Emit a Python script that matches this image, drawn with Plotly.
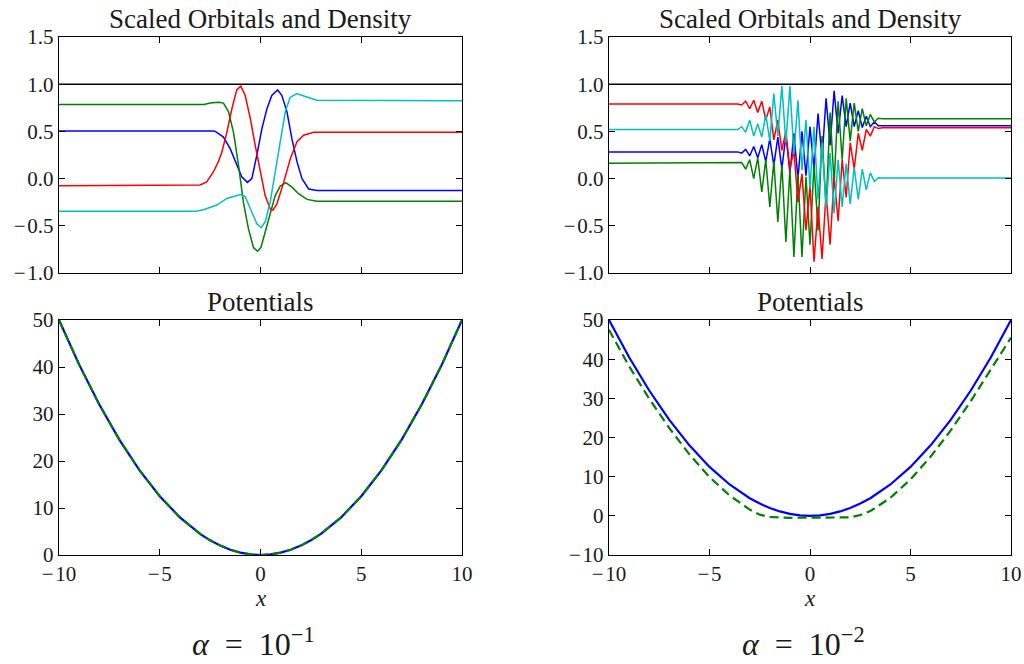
import numpy as np
import plotly.graph_objects as go

# ---------------- data ----------------
# alpha = 1e-1 : scaled orbitals (left top)
red_L_x = [-10, -3.5, -3.0, -2.67, -2.34, -2.09, -1.92, -1.67, -1.42, -1.18, -0.98, -0.76, -0.51, -0.26, 0.0, 0.23, 0.48, 0.61, 0.81, 1.15, 1.48, 1.81, 2.14, 2.64, 10]
red_L_y = [-0.075, -0.075, -0.068, -0.035, 0.07, 0.18, 0.28, 0.49, 0.74, 0.94, 0.98, 0.88, 0.64, 0.35, 0.06, -0.18, -0.32, -0.335, -0.27, -0.04, 0.21, 0.39, 0.46, 0.49, 0.49]
blue_L_x = [-10, -2.3, -2.17, -1.84, -1.51, -1.18, -0.93, -0.65, -0.43, -0.18, 0.07, 0.32, 0.56, 0.85, 1.06, 1.31, 1.56, 1.81, 2.06, 2.39, 2.8, 10]
blue_L_y = [0.505, 0.505, 0.49, 0.44, 0.32, 0.14, 0.02, -0.04, 0.0, 0.25, 0.53, 0.74, 0.88, 0.94, 0.88, 0.71, 0.42, 0.18, 0.0, -0.11, -0.125, -0.125]
green_L_x = [-10, -2.8, -2.5, -2.09, -1.84, -1.59, -1.34, -1.09, -0.85, -0.6, -0.35, -0.15, 0.02, 0.23, 0.48, 0.73, 0.98, 1.26, 1.56, 1.89, 2.31, 2.8, 10]
green_L_y = [0.785, 0.785, 0.80, 0.81, 0.80, 0.71, 0.49, 0.14, -0.25, -0.53, -0.73, -0.77, -0.73, -0.57, -0.35, -0.18, -0.08, -0.043, -0.09, -0.16, -0.22, -0.24, -0.24]
cyan_L_x = [-10, -3.2, -2.83, -2.17, -1.67, -1.01, -0.76, -0.51, -0.18, 0.03, 0.23, 0.48, 0.73, 0.98, 1.23, 1.47, 1.81, 2.22, 2.8, 10]
cyan_L_y = [-0.345, -0.345, -0.33, -0.28, -0.21, -0.17, -0.19, -0.32, -0.48, -0.52, -0.46, -0.25, 0.07, 0.42, 0.71, 0.86, 0.90, 0.87, 0.83, 0.825]

# alpha = 1e-2 : scaled orbitals (right top), sampled on a 0.2 grid in the centre
grid_R = [-10] + [round(-3.6 + 0.2 * i, 1) for i in range(37)] + [10]
red_R = [0.79, 0.79, 0.78, 0.82, 0.74, 0.83, 0.70, 0.82, 0.62, 0.76, 0.41, 0.62, 0.30, 0.50, 0.10, 0.30, -0.25,
         0.05, -0.55, -0.08, -0.88, -0.30, -0.85, -0.15, -0.70, 0.02, -0.45, 0.20, -0.20, 0.38, 0.10, 0.48,
         0.30, 0.52, 0.45, 0.55, 0.53, 0.538, 0.538]
blue_R = [0.283, 0.283, 0.27, 0.31, 0.24, 0.34, 0.22, 0.36, 0.18, 0.42, 0.14, 0.44, 0.10, 0.46, 0.06, 0.48, 0.00,
          0.50, 0.03, 0.55, 0.10, 0.69, 0.22, 0.85, 0.35, 0.93, 0.48, 0.88, 0.55, 0.80, 0.55, 0.72,
          0.54, 0.66, 0.55, 0.60, 0.56, 0.56, 0.56]
green_R = [0.163, 0.163, 0.17, 0.10, 0.20, 0.0, 0.22, -0.14, 0.20, -0.30, 0.18, -0.46, 0.15, -0.67, 0.10, -0.83, 0.05,
           -0.83, 0.02, -0.70, 0.15, -0.55, 0.45, -0.30, 0.70, -0.05, 0.82, 0.20, 0.85, 0.40, 0.80, 0.50,
           0.74, 0.56, 0.68, 0.60, 0.64, 0.634, 0.634]
cyan_R = [0.52, 0.52, 0.55, 0.49, 0.62, 0.45, 0.58, 0.44, 0.68, 0.40, 0.90, 0.45, 0.98, 0.38, 0.98, 0.26, 0.83,
          0.09, 0.62, -0.10, 0.55, -0.22, 0.38, -0.30, 0.27, -0.37, 0.20, -0.30, 0.16, -0.27, 0.12, -0.22,
          0.10, -0.12, 0.06, -0.03, 0.01, 0.007, 0.007]

density_x = [-10, 10]
density_y = [1.0, 1.0]

# potentials
pot_x = [-10, -9, -8, -7, -6, -5, -4, -3, -2.5, -2, -1.5, -1, -0.5, 0, 0.5, 1, 1.5, 2, 2.5, 3, 4, 5, 6, 7, 8, 9, 10]
pot_blue = [50, 40.5, 32, 24.5, 18, 12.5, 8, 4.5, 3.125, 2, 1.125, 0.5, 0.125, 0, 0.125, 0.5, 1.125, 2, 3.125, 4.5, 8, 12.5, 18, 24.5, 32, 40.5, 50]
pot_green_L = [50, 40.5, 32, 24.5, 18, 12.5, 8, 4.5, 3.125, 2, 1.125, 0.5, 0.125, 0, 0.125, 0.5, 1.125, 2, 3.125, 4.5, 8, 12.5, 18, 24.5, 32, 40.5, 50]
potR_green_x = [-10, -9, -8, -7, -6, -5, -4, -3, -2.5, -2, -1, 0, 1, 2, 2.5, 3, 4, 5, 6, 7, 8, 9, 10]
potR_green_y = [47.5, 38.2, 29.9, 22.4, 15.7, 9.9, 5.2, 1.6, 0.3, -0.3, -0.5, -0.5, -0.5, -0.4, 0.2, 1.2, 4.6, 9.3, 15.1, 21.8, 29.3, 37.3, 45.5]

M = "\u2212\u200a"  # minus sign followed by a hair space (mathtext look)
orbital_ticks = [-1.0, -0.5, 0.0, 0.5, 1.0, 1.5]
orbital_ticktext = [M + "1.0", M + "0.5", "0.0", "0.5", "1.0", "1.5"]
x_ticks = [-10, -5, 0, 5, 10]
x_ticktext = [M + "10", M + "5", "0", "5", "10"]
potL_ticks = [0, 10, 20, 30, 40, 50]
potR_ticks = [-10, 0, 10, 20, 30, 40, 50]
potR_ticktext = [M + "10", "0", "10", "20", "30", "40", "50"]

# ---------------- figure ----------------
W, H = 1024, 664
BLUE, GREEN, RED, CYAN = "#0000ff", "#008000", "#ff0000", "#00bfbf"
FONT = "Liberation Serif"
TXT = "#1a1a1a"

fig = go.Figure()

def line(x, y, color, xa, ya, width=1.5, dash=None):
    fig.add_trace(go.Scatter(x=x, y=y, mode="lines", xaxis=xa, yaxis=ya,
                             line=dict(color=color, width=width, dash=dash),
                             showlegend=False, hoverinfo="skip"))

# top-left
line(density_x, density_y, "black", "x", "y")
line(blue_L_x, blue_L_y, BLUE, "x", "y")
line(green_L_x, green_L_y, GREEN, "x", "y")
line(red_L_x, red_L_y, RED, "x", "y")
line(cyan_L_x, cyan_L_y, CYAN, "x", "y")
# top-right
line(density_x, density_y, "black", "x2", "y2")
line(grid_R, blue_R, BLUE, "x2", "y2")
line(grid_R, green_R, GREEN, "x2", "y2")
line(grid_R, red_R, RED, "x2", "y2")
line(grid_R, cyan_R, CYAN, "x2", "y2")
# bottom-left
line(pot_x, pot_blue, BLUE, "x3", "y3", width=2.2)
line(pot_x, pot_green_L, GREEN, "x3", "y3", width=2.2, dash="9px,5px")
# bottom-right
line(pot_x, pot_blue, BLUE, "x4", "y4", width=2.2)
line(potR_green_x, potR_green_y, GREEN, "x4", "y4", width=2.2, dash="9px,5px")

def px_x(p):
    return p / W

def px_y(p):
    return 1 - p / H

colL = [px_x(59), px_x(462)]
colR = [px_x(609), px_x(1011)]
rowT = [px_y(273), px_y(37)]
rowB = [px_y(555), px_y(320)]

tickfont = dict(family=FONT, size=21, color=TXT)
common = dict(showgrid=False, zeroline=False, showline=True, linecolor="black", linewidth=1.4,
              mirror="ticks", ticks="inside", ticklen=6, tickwidth=1.2, tickcolor="black",
              tickfont=tickfont, automargin=False)

fig.update_layout(
    width=W, height=H, margin=dict(l=0, r=0, t=0, b=0),
    paper_bgcolor="white", plot_bgcolor="white",
    xaxis=dict(domain=colL, anchor="y", range=[-10, 10], tickvals=x_ticks, showticklabels=False, **common),
    yaxis=dict(domain=rowT, anchor="x", range=[-1, 1.5], tickvals=orbital_ticks, ticktext=orbital_ticktext, **common),
    xaxis2=dict(domain=colR, anchor="y2", range=[-10, 10], tickvals=x_ticks, showticklabels=False, **common),
    yaxis2=dict(domain=rowT, anchor="x2", range=[-1, 1.5], tickvals=orbital_ticks, ticktext=orbital_ticktext, **common),
    xaxis3=dict(domain=colL, anchor="y3", range=[-10, 10], tickvals=x_ticks, ticktext=x_ticktext, **common),
    yaxis3=dict(domain=rowB, anchor="x3", range=[0, 50], tickvals=potL_ticks, **common),
    xaxis4=dict(domain=colR, anchor="y4", range=[-10, 10], tickvals=x_ticks, ticktext=x_ticktext, **common),
    yaxis4=dict(domain=rowB, anchor="x4", range=[-10, 50], tickvals=potR_ticks, ticktext=potR_ticktext, **common),
)

def text(s, cx, cy, size):
    fig.add_annotation(text=s, x=px_x(cx), y=px_y(cy), xref="paper", yref="paper",
                       xanchor="center", yanchor="middle", showarrow=False,
                       font=dict(family=FONT, size=size, color=TXT))

for cx in [260.5, 810]:
    text("Scaled Orbitals and Density", cx, 19, 27)
    text("Potentials", cx, 302, 27)
    text("<i>x</i>", cx, 598, 23)
text("<i>α</i>\u2002=\u200210<sup>\u22121</sup>", 253, 642, 32)
text("<i>α</i>\u2002=\u200210<sup>\u22122</sup>", 803, 642, 32)

fig.write_html("out.html")
